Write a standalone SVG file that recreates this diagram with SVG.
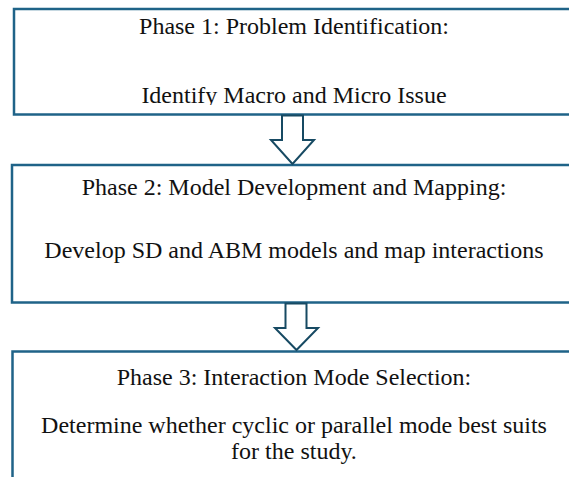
<svg xmlns="http://www.w3.org/2000/svg" width="569" height="477" viewBox="0 0 569 477">
  <style>
    .box { fill: #ffffff; stroke: #1f6388; stroke-width: 2.5; }
    .arrow { fill: #ffffff; stroke: #174a63; stroke-width: 2; stroke-linejoin: miter; }
    text { font-family: 'Liberation Serif', 'DejaVu Serif', serif; font-size: 24px; fill: #111111; text-anchor: middle; }
  </style>
  <defs>
    <clipPath id="clip-phase1">
      <rect x="14" y="9" width="560" height="96"/>
    </clipPath>
  </defs>
  <rect width="569" height="477" fill="#ffffff"/>

  <g id="phase1">
    <rect class="box" x="14" y="9" width="565" height="105.5"/>
    <g clip-path="url(#clip-phase1)">
      <text x="294" y="34" font-family="Liberation Serif, serif">Phase 1: Problem Identification:</text>
      <text x="294" y="103" font-family="Liberation Serif, serif">Identify Macro and Micro Issue</text>
    </g>
  </g>

  <g id="phase2">
    <rect class="box" x="12" y="165" width="567" height="137.5"/>
    <text x="294" y="195" font-family="Liberation Serif, serif">Phase 2: Model Development and Mapping:</text>
    <text x="294" y="258" font-family="Liberation Serif, serif">Develop SD and ABM models and map interactions</text>
  </g>

  <g id="phase3">
    <rect class="box" x="12.5" y="351.5" width="567" height="140"/>
    <text x="294" y="385" font-family="Liberation Serif, serif">Phase 3: Interaction Mode Selection:</text>
    <text x="294" y="433" font-family="Liberation Serif, serif">Determine whether cyclic or parallel mode best suits</text>
    <text x="294" y="459" font-family="Liberation Serif, serif">for the study.</text>
  </g>

  <g id="connectors">
    <path class="arrow" d="M282 115.5 H303 V140 H314 L292.5 164 L271 140 H282 Z"/>
    <path class="arrow" d="M285.5 303.5 H306.5 V328 H318 L296.5 350 L275 328 H285.5 Z"/>
  </g>
</svg>
